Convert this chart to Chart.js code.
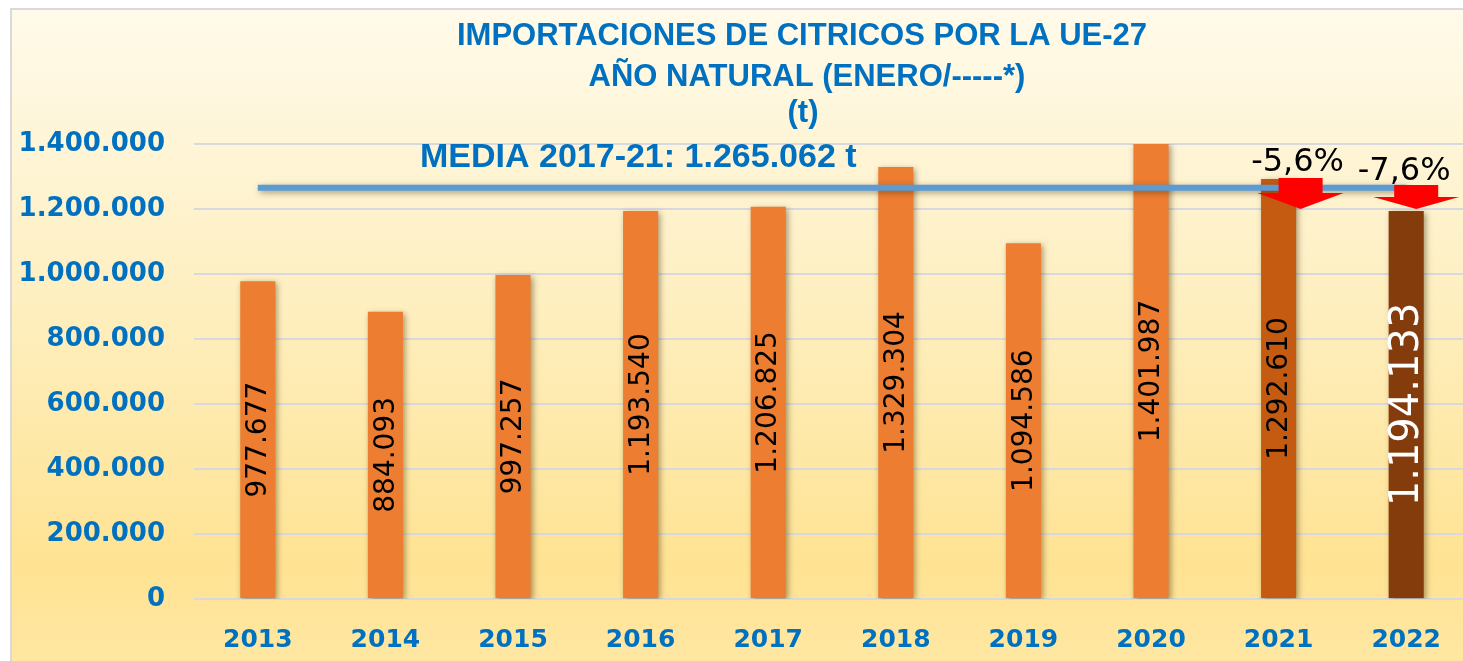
<!DOCTYPE html>
<html>
<head>
<meta charset="utf-8">
<script src="https://cdn.jsdelivr.net/npm/chart.js@4/dist/chart.umd.min.js"></script>
<style>
html,body{margin:0;padding:0;background:#fff;overflow:hidden;width:1463px;height:661px;}
canvas{display:block;}
</style>
</head>
<body>
<canvas id="c" width="1480" height="661"></canvas>
<script>
// ---- DATA ----
const years = ['2013','2014','2015','2016','2017','2018','2019','2020','2021','2022'];
const imports = [977677, 884093, 997257, 1193540, 1206825, 1329304, 1094586, 1401987, 1292610, 1194133];
const meanValue = 1265062;
const meanLine = [1265062,1265062,1265062,1265062,1265062,1265062,1265062,1265062,1265062,1265062];
const changeLabels = [null,null,null,null,null,null,null,null,'-5,6%','-7,6%'];
const yTickValues = [0,200000,400000,600000,800000,1000000,1200000,1400000];
const titleLines = ['IMPORTACIONES DE CITRICOS POR LA UE-27','AÑO NATURAL (ENERO/-----*)','(t)'];
const meanText = 'MEDIA 2017-21: 1.265.062 t';

function fmt(n){
  const s = String(Math.round(n));
  return s.replace(/\B(?=(\d{3})+(?!\d))/g,'.');
}

const BLUE = '#0070C0';

const bgPlugin = {
  id:'bg',
  beforeDraw(chart){
    const ctx = chart.ctx;
    ctx.save();
    ctx.fillStyle='#fff';
    ctx.fillRect(0,0,chart.width,chart.height);
    const g = ctx.createLinearGradient(0,10,0,661);
    g.addColorStop(0,'#FFFAEA');
    g.addColorStop(0.45,'#FEEFC0');
    g.addColorStop(0.85,'#FFE393');
    g.addColorStop(1,'#FFE7A2');
    ctx.fillStyle=g;
    ctx.fillRect(11,9,chart.width,chart.height);
    ctx.strokeStyle='#D9D9D9';
    ctx.lineWidth=2;
    ctx.beginPath();
    ctx.moveTo(11,chart.height+5);ctx.lineTo(11,9);ctx.lineTo(chart.width+5,9);
    ctx.stroke();
    ctx.restore();
  }
};

const shadowPlugin = {
  id:'shadow',
  beforeDatasetDraw(chart,args){
    const ctx=chart.ctx;
    ctx.save();
    ctx.shadowColor='rgba(60,40,0,0.45)';
    ctx.shadowBlur=6;
    ctx.shadowOffsetX=2;
    ctx.shadowOffsetY=2;
  },
  afterDatasetDraw(chart){
    chart.ctx.restore();
  }
};

const textPlugin = {
  id:'texts',
  afterDatasetsDraw(chart){
    const ctx=chart.ctx;
    const area=chart.chartArea;
    const y=chart.scales.y;
    const meta=chart.getDatasetMeta(0);
    ctx.save();
    // value labels inside bars
    meta.data.forEach((bar,i)=>{
      const top=Math.max(bar.y,area.top);
      const mid=(top+bar.base)/2;
      ctx.save();
      ctx.translate(bar.x,mid);
      ctx.rotate(-Math.PI/2);
      ctx.textAlign='center';
      ctx.textBaseline='middle';
      if(i===imports.length-1){
        ctx.font='40px "DejaVu Sans"';
        ctx.fillStyle='#FFFFFF';
      } else {
        ctx.font='28px "DejaVu Sans"';
        ctx.fillStyle='#000000';
      }
      ctx.fillText(fmt(imports[i]),0,1);
      ctx.restore();
    });
    // arrows + change labels
    const arrowCfg={8:{dx:22,h:31,neck:16,lx:19,ly:163},9:{dx:10,h:24,neck:12,lx:-2,ly:172}};
    const tipY=y.getPixelForValue(1200000);
    changeLabels.forEach((lab,i)=>{
      if(!lab) return;
      const bar=meta.data[i];
      const c=arrowCfg[i];
      const cx=bar.x+c.dx;
      ctx.fillStyle='#FF0000';
      ctx.beginPath();
      ctx.moveTo(cx-22,tipY-c.h);
      ctx.lineTo(cx+22,tipY-c.h);
      ctx.lineTo(cx+22,tipY-c.neck);
      ctx.lineTo(cx+43,tipY-c.neck);
      ctx.lineTo(cx,tipY);
      ctx.lineTo(cx-43,tipY-c.neck);
      ctx.lineTo(cx-22,tipY-c.neck);
      ctx.closePath();
      ctx.fill();
      ctx.fillStyle='#000';
      ctx.font='32px "DejaVu Sans"';
      ctx.textAlign='center';
      ctx.textBaseline='middle';
      ctx.fillText(lab,bar.x+c.lx,c.ly);
    });
    // titles
    ctx.fillStyle=BLUE;
    ctx.font='bold 31px "Liberation Sans"';
    ctx.textAlign='center';
    ctx.textBaseline='middle';
    ctx.fillText(titleLines[0],802,36);
    ctx.fillText(titleLines[1],807,77);
    ctx.fillText(titleLines[2],803,113);
    ctx.font='bold 34px "Liberation Sans"';
    ctx.textAlign='left';
    ctx.fillText(meanText,420,158);
    ctx.restore();
  }
};

new Chart(document.getElementById('c'),{
  data:{
    labels:years,
    datasets:[
      {
        type:'bar',
        label:'Importaciones',
        data:imports,
        order:1,
        backgroundColor:(c)=> c.dataIndex===8 ? '#C55A11' : (c.dataIndex===9 ? '#843C0C' : '#ED7D31'),
        borderWidth:0,
        categoryPercentage:1,
        barPercentage:0.275
      },
      {
        type:'line',
        label:'Media',
        data:meanLine,
        order:0,
        borderColor:'#5B9BD5',
        borderWidth:6,
        pointRadius:0,
        fill:false
      }
    ]
  },
  options:{
    responsive:false,
    animation:false,
    events:[],
    layout:{padding:{left:0,right:10,top:144,bottom:0}},
    plugins:{legend:{display:false},tooltip:{enabled:false},title:{display:false}},
    scales:{
      x:{
        grid:{display:false},
        border:{display:false},
        ticks:{color:BLUE,font:{family:'DejaVu Sans',size:25,weight:'bold'},padding:18,maxRotation:0},
        afterFit(s){s.height=62;}
      },
      y:{
        min:0,max:1400000,
        afterBuildTicks(s){s.ticks=yTickValues.map(v=>({value:v}));},
        grid:{color:'#D8D8E0',lineWidth:2,drawTicks:false},
        border:{display:false},
        ticks:{color:BLUE,font:{family:'DejaVu Sans',size:26,weight:'bold'},padding:29,callback:(v)=>fmt(v)},
        afterFit(s){s.width=194;}
      }
    }
  },
  plugins:[bgPlugin,shadowPlugin,textPlugin]
});
</script>
</body>
</html>
